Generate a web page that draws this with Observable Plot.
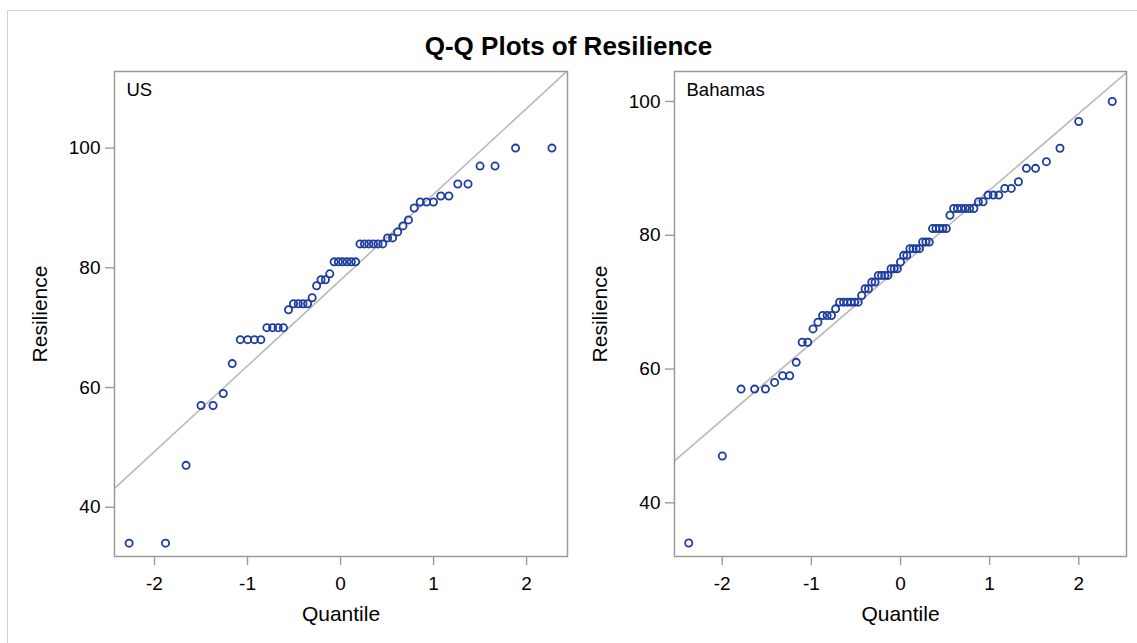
<!DOCTYPE html>
<html>
<head>
<meta charset="utf-8">
<script src="https://cdn.jsdelivr.net/npm/d3@7"></script>
<script src="https://cdn.jsdelivr.net/npm/@observablehq/plot@0.6"></script>
<style>
  html, body { margin: 0; padding: 0; background: #fff; overflow: hidden; }
  #page { position: relative; width: 1137px; height: 643px; overflow: hidden; font-family: "Liberation Sans", Arial, sans-serif; }
  #border { position: absolute; left: 7px; top: 10px; width: 1300px; height: 800px; border: 1px solid #d0d0d0; box-sizing: border-box; }
  #title { position: absolute; left: 0; width: 1137px; top: 33px; text-align: center; font-weight: bold; font-size: 26px; line-height: 26px; color: #000; }
  .panel { position: absolute; top: 0; }
  .panel svg [aria-label="x-axis tick"] path,
  .panel svg [aria-label="y-axis tick"] path,
  .panel svg [aria-label="x-axis"] line,
  .panel svg [aria-label="y-axis"] line { stroke: #9a9a9a; stroke-width: 1.4px; }
</style>
</head>
<body>
<div id="page">
  <div id="border"></div>
  <div id="p1" class="panel" style="left:0px"></div>
  <div id="p2" class="panel" style="left:580px"></div>
  <div id="title">Q-Q Plots of Resilience</div>
</div>
<script>
// ---- Data: sorted Resilience values ----
const usResilience = [34, 34, 47, 57, 57, 59, 64, 68, 68, 68, 68, 70, 70, 70, 70, 73, 74, 74, 74, 74,
  75, 77, 78, 78, 79, 81, 81, 81, 81, 81, 81, 84, 84, 84, 84, 84, 84, 85, 85, 86, 87, 88, 90,
  91, 91, 91, 92, 92, 94, 94, 97, 97, 100, 100];
const bahamasResilience = [34, 47, 57, 57, 57, 58, 59, 59, 61, 64, 64, 66, 67, 68, 68, 68, 69,
  70, 70, 70, 70, 70, 70, 71, 72, 72, 73, 73, 74, 74, 74, 74, 75, 75, 75, 76, 77, 77,
  78, 78, 78, 78, 79, 79, 79, 81, 81, 81, 81, 81, 83, 84, 84, 84, 84, 84, 84, 85, 85,
  86, 86, 86, 87, 87, 88, 90, 90, 91, 93, 97, 100];
const panelLabels = ["US", "Bahamas"];
const xTicks = [-2, -1, 0, 1, 2];
const yTicks = [40, 60, 80, 100];
const chartTitle = "Q-Q Plots of Resilience";
const xLabel = "Quantile";
const yLabel = "Resilience";

// Inverse standard normal CDF (Acklam)
function qnorm(p) {
  const a = [-3.969683028665376e+01, 2.209460984245205e+02, -2.759285104469687e+02, 1.383577518672690e+02, -3.066479806614716e+01, 2.506628277459239e+00];
  const b = [-5.447609879822406e+01, 1.615858368580409e+02, -1.556989798598866e+02, 6.680131188771972e+01, -1.328068155288572e+01];
  const c = [-7.784894002430293e-03, -3.223964580411365e-01, -2.400758277161838e+00, -2.549732539343734e+00, 4.374664141464968e+00, 2.938163982698783e+00];
  const d = [7.784695709041462e-03, 3.224671290700398e-01, 2.445134137142996e+00, 3.754408661907416e+00];
  const pl = 0.02425, ph = 1 - pl;
  let q, r;
  if (p < pl) { q = Math.sqrt(-2 * Math.log(p)); return (((((c[0]*q+c[1])*q+c[2])*q+c[3])*q+c[4])*q+c[5]) / ((((d[0]*q+d[1])*q+d[2])*q+d[3])*q+1); }
  if (p <= ph) { q = p - 0.5; r = q*q; return (((((a[0]*r+a[1])*r+a[2])*r+a[3])*r+a[4])*r+a[5])*q / (((((b[0]*r+b[1])*r+b[2])*r+b[3])*r+b[4])*r+1); }
  q = Math.sqrt(-2 * Math.log(1 - p)); return -(((((c[0]*q+c[1])*q+c[2])*q+c[3])*q+c[4])*q+c[5]) / ((((d[0]*q+d[1])*q+d[2])*q+d[3])*q+1);
}

// Q-Q transform: Blom plotting positions
function qq(values) {
  const s = values.slice().sort((a, b) => a - b);
  const n = s.length;
  return s.map((v, i) => ({ q: qnorm((i + 1 - 0.375) / (n + 0.25)), v }));
}

const FONT = "'Liberation Sans', Arial, sans-serif";
const MARK = "#1c3c9e";

function panel(values, label, opts) {
  const pts = qq(values);
  const mu = d3.mean(values), sd = d3.deviation(values);
  const ref = opts.xDomain.map(x => ({ q: x, v: mu + sd * x }));
  return Plot.plot({
    width: opts.width, height: 643,
    marginLeft: opts.marginLeft, marginRight: opts.marginRight, marginTop: 71, marginBottom: 87,
    style: { fontFamily: FONT, fontSize: "19px", color: "#000", background: "transparent", overflow: "visible", maxWidth: "none" },
    x: { domain: opts.xDomain, ticks: xTicks, tickFormat: d => `${d}`, tickSize: 9, tickPadding: 11, label: null },
    y: { domain: opts.yDomain, ticks: yTicks, tickFormat: d => `${d}`, tickSize: 9, tickPadding: 5, label: null },
    marks: [
      Plot.line(ref, { x: "q", y: "v", stroke: "#b8b8b8", strokeWidth: 1.6, clip: true }),
      Plot.dot(pts, { x: "q", y: "v", r: 3.6, stroke: MARK, strokeWidth: 1.8, fill: "none" }),
      Plot.frame({ stroke: "#9a9a9a", strokeWidth: 1.5 }),
      Plot.text([label], { frameAnchor: "top-left", textAnchor: "start", lineAnchor: "top", dx: 12, dy: 11, fontSize: 18.5, fill: "#000" }),
      Plot.text([xLabel], { frameAnchor: "bottom", textAnchor: "middle", dy: 64, fontSize: 21, fill: "#000" }),
      Plot.text([yLabel], { frameAnchor: "left", textAnchor: "middle", dx: -74, rotate: -90, fontSize: 21, fill: "#000" })
    ]
  });
}

document.getElementById("title").textContent = chartTitle;
document.getElementById("p1").appendChild(panel(usResilience, panelLabels[0], {
  width: 580, marginLeft: 114, marginRight: 13, xDomain: [-2.43, 2.44], yDomain: [31.77, 112.8]
}));
document.getElementById("p2").appendChild(panel(bahamasResilience, panelLabels[1], {
  width: 557, marginLeft: 94, marginRight: 11, xDomain: [-2.535, 2.535], yDomain: [31.98, 104.48]
}));
</script>
</body>
</html>
